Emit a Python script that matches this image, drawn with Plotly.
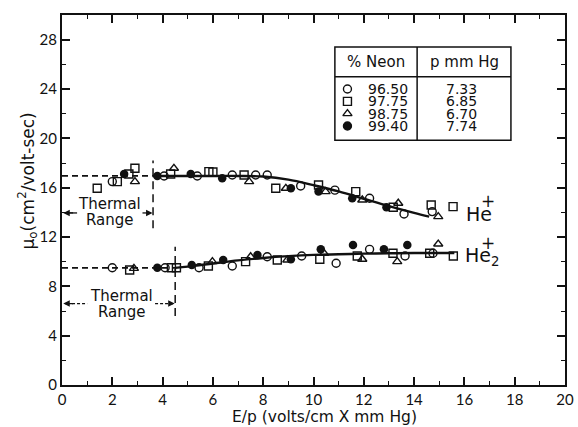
import plotly.graph_objects as go

# ---------------- data ----------------
he1_circ_x = [2.0, 4.06, 5.38, 6.77, 7.7, 8.16, 9.49, 10.85, 12.23, 13.6, 14.72]
he1_circ_y = [16.49, 16.95, 16.95, 17.03, 17.03, 17.03, 16.14, 15.8, 15.14, 13.87, 14.06]
he1_sq_x = [1.4, 2.2, 2.66, 2.9, 4.32, 5.84, 6.0, 7.24, 8.5, 10.2, 11.68, 13.17, 14.68, 15.55]
he1_sq_y = [15.95, 16.49, 17.11, 17.57, 17.11, 17.3, 17.27, 17.03, 15.95, 16.22, 15.68, 14.41, 14.6, 14.46]
he1_tri_x = [2.9, 4.45, 7.44, 8.9, 10.48, 11.94, 13.37, 14.96]
he1_tri_y = [16.49, 17.57, 16.49, 15.95, 15.68, 15.0, 14.74, 13.65]
he1_fill_x = [2.47, 3.79, 5.12, 6.37, 9.1, 10.2, 11.54, 12.9]
he1_fill_y = [17.11, 16.95, 17.11, 16.76, 15.95, 15.68, 15.14, 14.41]

he2_circ_x = [2.0, 4.1, 5.45, 6.77, 8.16, 9.53, 10.9, 12.23, 13.64, 14.75]
he2_circ_y = [9.51, 9.51, 9.51, 9.65, 10.4, 10.46, 9.87, 11.0, 10.46, 10.68]
he2_sq_x = [2.69, 4.35, 4.55, 5.82, 7.3, 8.56, 10.25, 11.74, 13.16, 14.62, 15.56]
he2_sq_y = [9.33, 9.51, 9.51, 9.65, 10.0, 10.14, 10.2, 10.46, 10.68, 10.68, 10.46]
he2_tri_x = [2.86, 5.98, 7.5, 8.96, 10.42, 11.94, 13.33, 14.96]
he2_tri_y = [9.46, 10.0, 10.4, 10.14, 10.68, 10.2, 10.0, 11.43]
he2_fill_x = [3.79, 5.16, 6.41, 7.77, 9.1, 10.29, 11.57, 12.8, 13.73]
he2_fill_y = [9.51, 9.73, 10.14, 10.54, 10.2, 11.0, 11.35, 11.0, 11.35]

# fitted curves
he1_curve_x = [3.6, 5, 6, 7, 8, 9, 10, 11, 12, 13, 14, 14.6]
he1_curve_y = [16.95, 16.95, 16.95, 16.95, 16.9, 16.65, 16.2, 15.7, 15.1, 14.5, 13.95, 13.65]
he2_curve_x = [4.5, 5, 6, 7, 8, 9, 10, 11, 12, 13, 14, 15.6]
he2_curve_y = [9.5, 9.6, 9.85, 10.1, 10.3, 10.45, 10.55, 10.6, 10.65, 10.68, 10.7, 10.7]
he1_thermal = [0, 3.6]
he1_thermal_level = 16.95
he2_thermal = [0, 4.5]
he2_thermal_level = 9.5

neon_pct = ["96.50", "97.75", "98.75", "99.40"]
p_mmhg = ["7.33", "6.85", "6.70", "7.74"]

x_ticks = list(range(0, 21, 2))
y_ticks = list(range(0, 29, 4))

FONT = "DejaVu Sans"
TICKFONT = "Lato"
BLACK = "#111111"

fig = go.Figure()

# curves
fig.add_trace(go.Scatter(x=he1_thermal, y=[he1_thermal_level] * 2, mode="lines",
                         line=dict(color=BLACK, width=1.8, dash="6px,4px"), showlegend=False))
fig.add_trace(go.Scatter(x=he2_thermal, y=[he2_thermal_level] * 2, mode="lines",
                         line=dict(color=BLACK, width=1.8, dash="6px,4px"), showlegend=False))
fig.add_trace(go.Scatter(x=he1_curve_x, y=he1_curve_y, mode="lines", line_shape="spline",
                         line=dict(color=BLACK, width=2.4), showlegend=False))
fig.add_trace(go.Scatter(x=he2_curve_x, y=he2_curve_y, mode="lines", line_shape="spline",
                         line=dict(color=BLACK, width=2.4), showlegend=False))

for xs, ys, s in [(he1_circ_x, he1_circ_y, "circle"), (he2_circ_x, he2_circ_y, "circle"),
                  (he1_sq_x, he1_sq_y, "square"), (he2_sq_x, he2_sq_y, "square"),
                  (he1_tri_x, he1_tri_y, "triangle-up"), (he2_tri_x, he2_tri_y, "triangle-up")]:
    fig.add_trace(go.Scatter(x=xs, y=ys, mode="markers", showlegend=False,
                             marker=dict(symbol=s + "-open", size=8, color=BLACK,
                                         line=dict(color=BLACK, width=1.4))))
for xs, ys in [(he1_fill_x, he1_fill_y), (he2_fill_x, he2_fill_y)]:
    fig.add_trace(go.Scatter(x=xs, y=ys, mode="markers", showlegend=False,
                             marker=dict(symbol="circle", size=8.5, color=BLACK)))

# ---------------- legend table ----------------
tx0, tx1, tx2 = 10.85, 14.12, 17.85
ty_top, ty_line, ty_bot = 27.41, 25.0, 19.85
row_y = [24.0, 23.0, 22.0, 21.0]
shapes = [
    dict(type="rect", x0=tx0, x1=tx2, y0=ty_bot, y1=ty_top, line=dict(color=BLACK, width=1.5)),
    dict(type="line", x0=tx1, x1=tx1, y0=ty_bot, y1=ty_top, line=dict(color=BLACK, width=1.5)),
    dict(type="line", x0=tx0, x1=tx2, y0=ty_line, y1=ty_line, line=dict(color=BLACK, width=1.5)),
]
annotations = [
    dict(x=(tx0 + tx1) / 2, y=(ty_top + ty_line) / 2, text="% Neon", showarrow=False,
         font=dict(size=15, color=BLACK, family=FONT)),
    dict(x=(tx1 + tx2) / 2, y=(ty_top + ty_line) / 2, text="p mm Hg", showarrow=False,
         font=dict(size=15, color=BLACK, family=FONT)),
]
leg_syms = ["circle-open", "square-open", "triangle-up-open", "circle"]
fig.add_trace(go.Scatter(x=[11.35] * 4, y=row_y, mode="markers", showlegend=False,
                         marker=dict(symbol=leg_syms, size=8, color=BLACK,
                                     line=dict(color=BLACK, width=1.4))))
for yv, n, p in zip(row_y, neon_pct, p_mmhg):
    annotations.append(dict(x=12.95, y=yv, text=n, showarrow=False, borderpad=0,
                            font=dict(size=14, color=BLACK, family=FONT)))
    annotations.append(dict(x=15.9, y=yv, text=p, showarrow=False, borderpad=0,
                            font=dict(size=14, color=BLACK, family=FONT)))

# ---------------- thermal range markers ----------------
shapes += [
    dict(type="line", x0=3.62, x1=3.62, y0=12.7, y1=18.2, line=dict(color=BLACK, width=1.5, dash="8px,5px")),
    dict(type="line", x0=4.5, x1=4.5, y0=5.6, y1=11.2, line=dict(color=BLACK, width=1.5, dash="8px,5px")),
    dict(type="line", x0=0.2, x1=0.6, y0=13.95, y1=13.95, line=dict(color=BLACK, width=1.3)),
    dict(type="line", x0=3.2, x1=3.5, y0=13.95, y1=13.95, line=dict(color=BLACK, width=1.3)),
    dict(type="line", x0=0.2, x1=1.0, y0=6.6, y1=6.6, line=dict(color=BLACK, width=1.3, dash="3px,2px")),
    dict(type="line", x0=3.7, x1=4.4, y0=6.6, y1=6.6, line=dict(color=BLACK, width=1.3, dash="3px,2px")),
]
for (xa, xb, yv) in [(0.5, 0.05, 13.95), (3.3, 3.6, 13.95), (0.5, 0.05, 6.6), (4.2, 4.48, 6.6)]:
    annotations.append(dict(x=xb, y=yv, ax=xa, ay=yv, xref="x", yref="y", axref="x", ayref="y",
                            showarrow=True, arrowhead=2, arrowsize=1, arrowwidth=1.3,
                            arrowcolor=BLACK, text=" ", font=dict(size=1)))
for (xc, yc, t) in [(1.9, 14.7, "Thermal"), (1.9, 13.4, "Range"),
                    (2.38, 7.25, "Thermal"), (2.4, 5.95, "Range")]:
    annotations.append(dict(x=xc, y=yc, text=t, showarrow=False, borderpad=0,
                            font=dict(size=15, color=BLACK, family=FONT)))

# ---------------- ion labels ----------------
annotations += [
    dict(x=16.6, y=13.9, text="He", showarrow=False, font=dict(size=19, color=BLACK, family=FONT)),
    dict(x=16.95, y=14.95, text="+", showarrow=False, font=dict(size=17, color=BLACK, family=FONT)),
    dict(x=16.7, y=10.4, text="He<sub>2</sub>", showarrow=False, font=dict(size=19, color=BLACK, family=FONT)),
    dict(x=16.95, y=11.5, text="+", showarrow=False, font=dict(size=17, color=BLACK, family=FONT)),
]

# ---------------- axis titles ----------------
annotations += [
    dict(xref="paper", yref="paper", x=0, y=0.55, xshift=-34, textangle=-90,
         text="μ<sub>o</sub>(cm<sup>2</sup>/volt-sec)", showarrow=False,
         xanchor="center", yanchor="middle", font=dict(size=17, color=BLACK, family=FONT)),
    dict(xref="paper", yref="paper", x=0.522, y=0, yshift=-32,
         text="E/p (volts/cm X mm Hg)", showarrow=False, borderpad=0,
         xanchor="center", yanchor="middle", font=dict(size=15.5, color=BLACK, family=FONT)),
]

axis_common = dict(showline=True, linecolor=BLACK, linewidth=2, mirror="allticks",
                   ticks="inside", ticklen=8, tickwidth=1.5, tickcolor=BLACK,
                   showgrid=False, zeroline=False, automargin=False,
                   tickfont=dict(size=15, color=BLACK, family=TICKFONT))

fig.update_layout(
    width=578, height=427,
    margin=dict(l=62, r=13, t=15, b=42, autoexpand=False),
    paper_bgcolor="white", plot_bgcolor="white",
    showlegend=False,
    shapes=shapes, annotations=annotations,
    xaxis=dict(range=[0, 20], tickvals=x_ticks, ticktext=[str(v) for v in x_ticks],
               minor=dict(dtick=1, ticks="inside", ticklen=4, tickcolor=BLACK, tickwidth=1.2),
               **axis_common),
    yaxis=dict(range=[0, 30], tickvals=y_ticks, ticktext=[str(v) for v in y_ticks],
               minor=dict(dtick=2, ticks="inside", ticklen=4, tickcolor=BLACK, tickwidth=1.2),
               **axis_common),
)

fig.write_html("out.html")
